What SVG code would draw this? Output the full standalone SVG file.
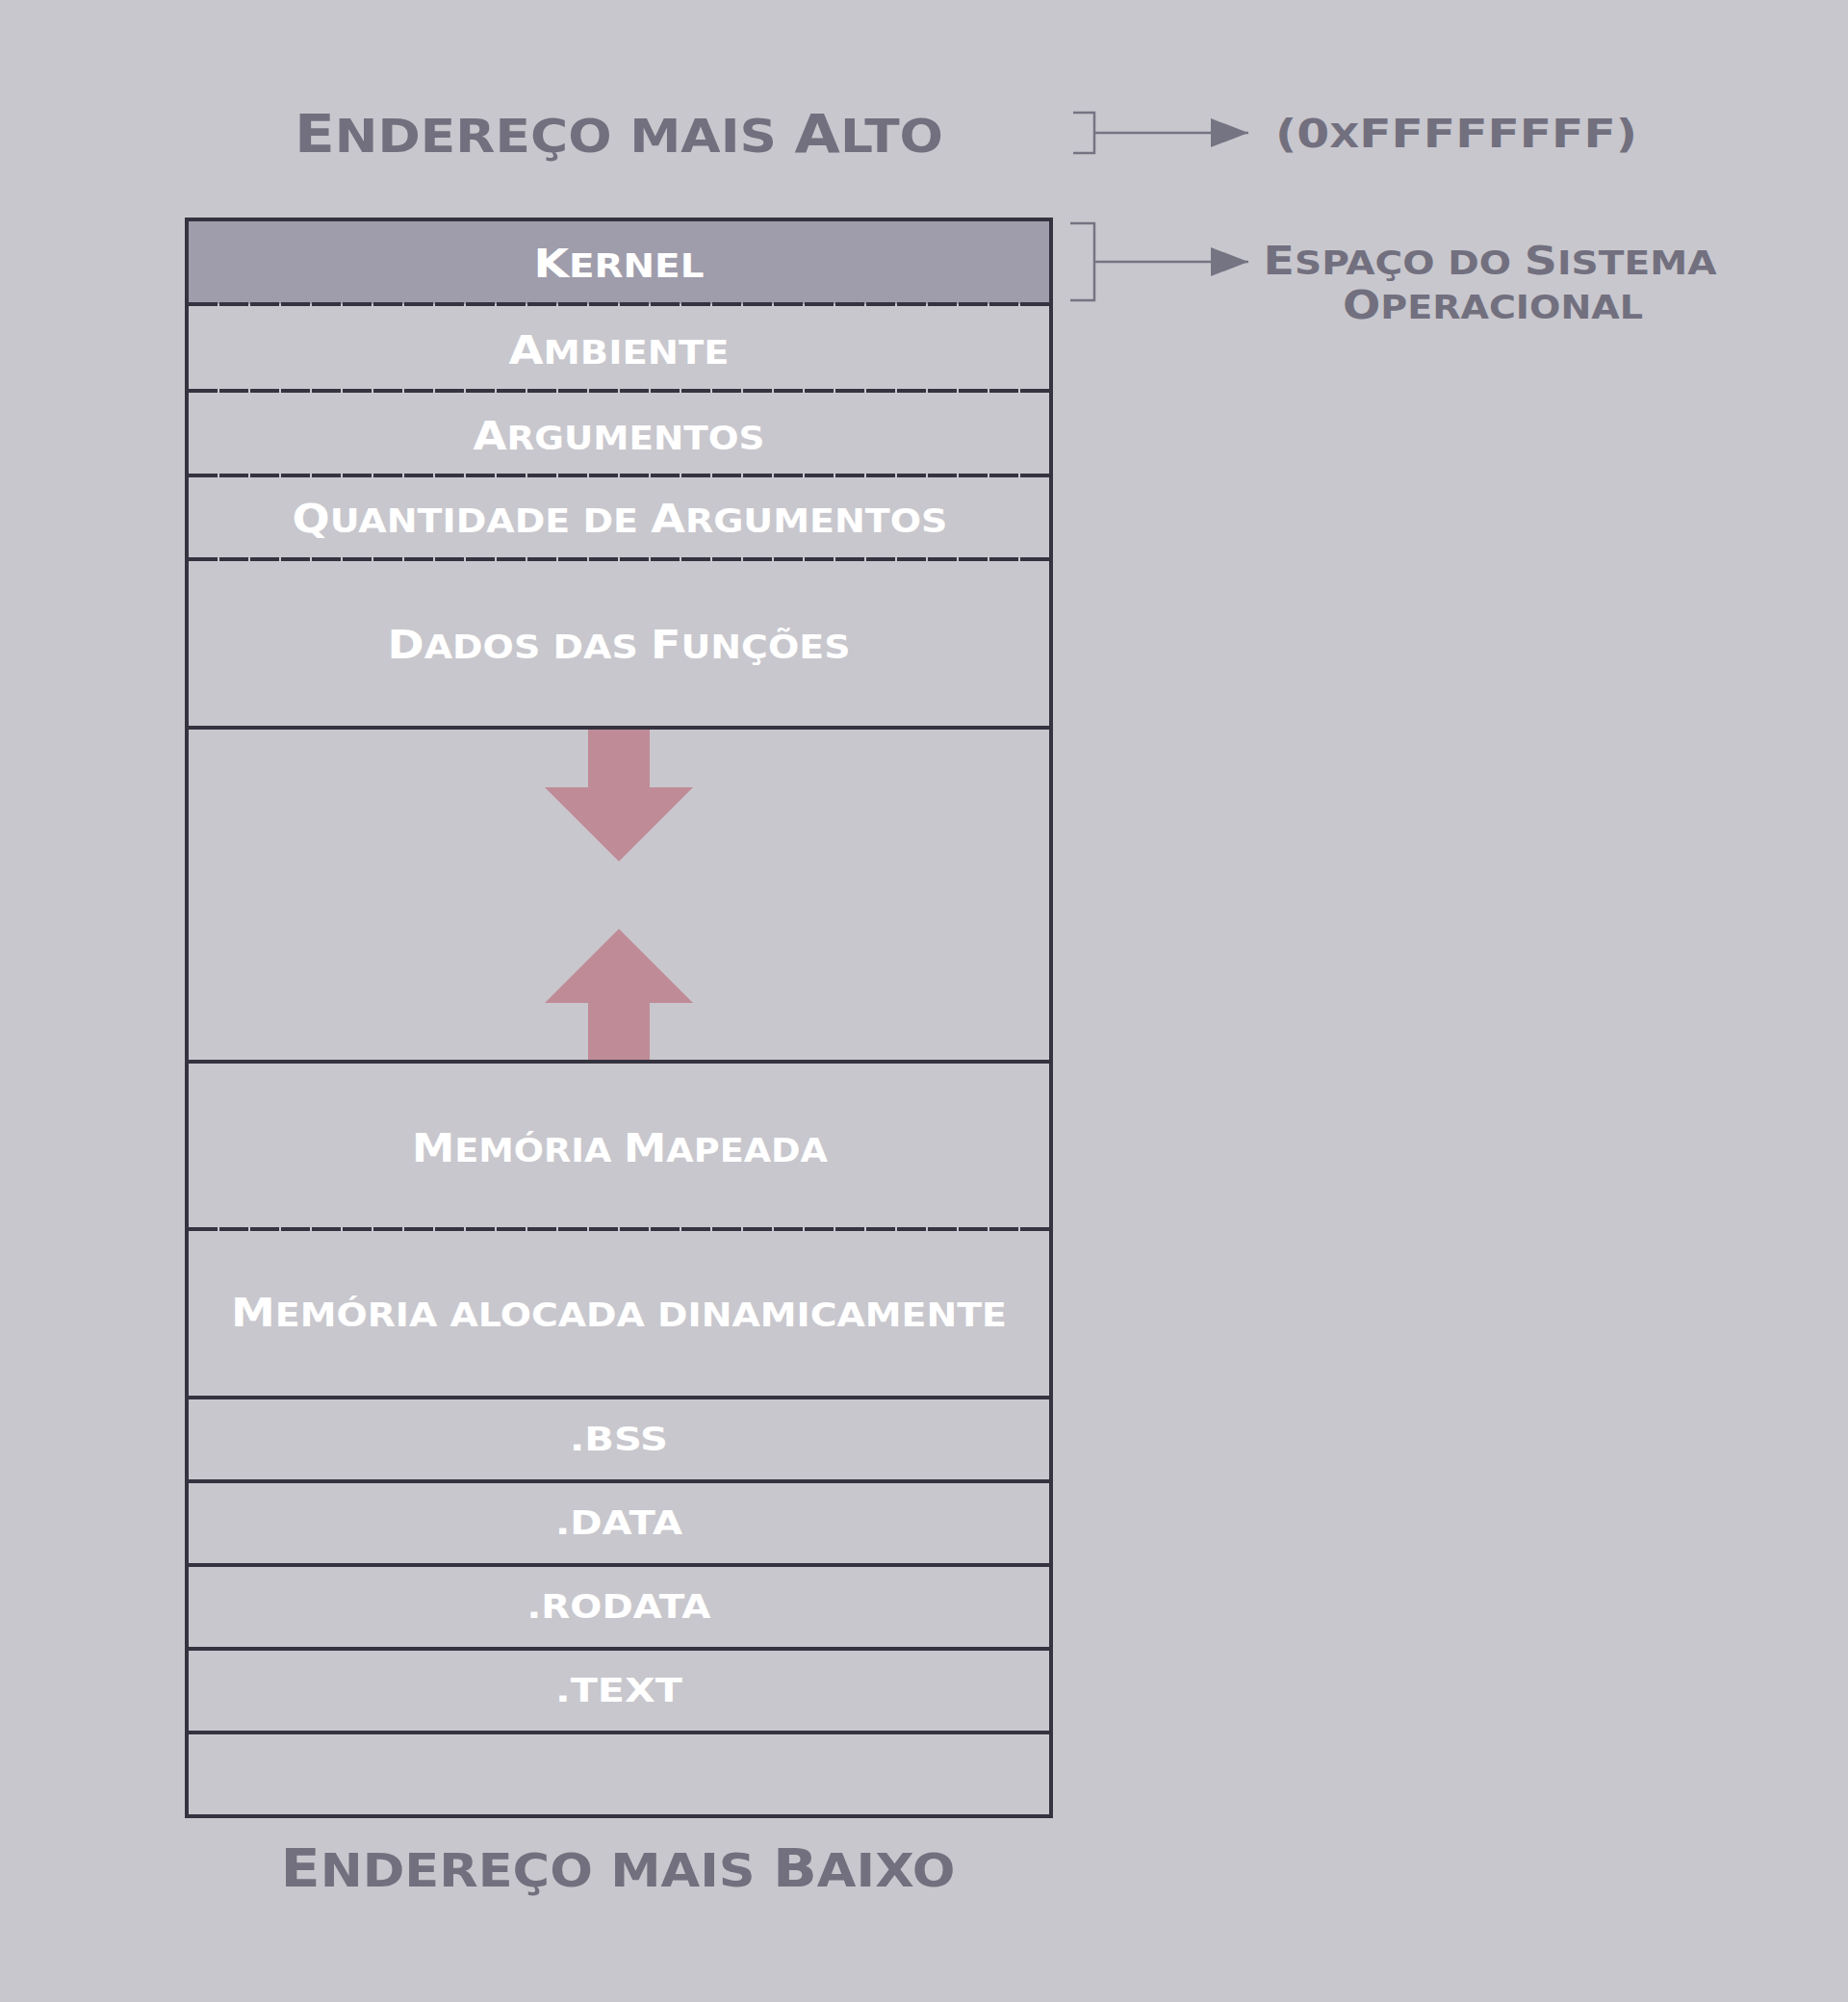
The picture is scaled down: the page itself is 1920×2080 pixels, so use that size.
<svg xmlns="http://www.w3.org/2000/svg" width="1920" height="2080" viewBox="0 0 1920 2080">
<defs>
<style>
.bg{fill:#c8c7cd}
.grid{stroke:#35333f;stroke-width:4;fill:none}
.dash{stroke:#35333f;stroke-width:4;stroke-dasharray:30 2;fill:none}
.lbl{font-family:"DejaVu Sans","Liberation Sans",sans-serif;font-weight:bold;fill:#ffffff;text-anchor:middle;text-transform:uppercase;font-size:33px}
.lbl .c{font-size:40px}
.ttl{font-family:"DejaVu Sans","Liberation Sans",sans-serif;font-weight:bold;fill:#72707f;text-anchor:middle;text-transform:uppercase;font-size:48px}
.ttl .c{font-size:55px}
.side{font-family:"DejaVu Sans","Liberation Sans",sans-serif;font-weight:bold;fill:#72707f;text-anchor:middle;text-transform:uppercase;font-size:33px}
.side .c{font-size:40px}
.conn{stroke:#757483;stroke-width:2.5;fill:none}
.pink{fill:#bf8b97}
</style>
<marker id="tri" markerUnits="userSpaceOnUse" markerWidth="39" markerHeight="30" refX="39" refY="15" orient="auto">
<path d="M0,0 L39,15 L0,30 Z" fill="#757483"/>
</marker>
</defs>
<rect class="bg" x="0" y="0" width="1920" height="2080"/>

<g id="title-top">
<text class="ttl" x="643" y="158" textLength="674" lengthAdjust="spacingAndGlyphs"><tspan class="c">E</tspan>ndereço mais <tspan class="c">A</tspan>lto</text>
</g>

<g id="kernel">
<rect x="193" y="228" width="900" height="88" fill="#9f9dac"/>
<text class="lbl" x="643" y="288" textLength="177" lengthAdjust="spacingAndGlyphs"><tspan class="c">K</tspan>ernel</text>
</g>
<g id="ambiente">
<text class="lbl" x="643" y="378" textLength="229" lengthAdjust="spacingAndGlyphs"><tspan class="c">A</tspan>mbiente</text>
</g>
<g id="argumentos">
<text class="lbl" x="643" y="467" textLength="303" lengthAdjust="spacingAndGlyphs"><tspan class="c">A</tspan>rgumentos</text>
</g>
<g id="quantidade">
<text class="lbl" x="644" y="553" textLength="681" lengthAdjust="spacingAndGlyphs"><tspan class="c">Q</tspan>uantidade de <tspan class="c">A</tspan>rgumentos</text>
</g>
<g id="dados">
<text class="lbl" x="643" y="684" textLength="481" lengthAdjust="spacingAndGlyphs"><tspan class="c">D</tspan>ados das <tspan class="c">F</tspan>unções</text>
</g>
<g id="crescimento">
<polygon class="pink" points="611,756 675,756 675,818 720,818 643,895 566,818 611,818"/>
<polygon class="pink" points="643,965 720,1042 675,1042 675,1103 611,1103 611,1042 566,1042"/>
</g>
<g id="memoria-mapeada">
<text class="lbl" x="644" y="1207" textLength="432" lengthAdjust="spacingAndGlyphs"><tspan class="c">M</tspan>emória <tspan class="c">M</tspan>apeada</text>
</g>
<g id="memoria-dinamica">
<text class="lbl" x="643" y="1378" textLength="806" lengthAdjust="spacingAndGlyphs"><tspan class="c">M</tspan>emória alocada dinamicamente</text>
</g>
<g id="bss">
<text class="lbl" x="643" y="1507" textLength="102" lengthAdjust="spacingAndGlyphs">.bss</text>
</g>
<g id="data">
<text class="lbl" x="643" y="1594" textLength="132" lengthAdjust="spacingAndGlyphs">.data</text>
</g>
<g id="rodata">
<text class="lbl" x="643" y="1681" textLength="191" lengthAdjust="spacingAndGlyphs">.rodata</text>
</g>
<g id="text">
<text class="lbl" x="643" y="1768" textLength="132" lengthAdjust="spacingAndGlyphs">.text</text>
</g>
<g id="vazio"></g>

<g id="grid">
<rect class="grid" x="194" y="228" width="898" height="1659"/>
<path class="dash" d="M196,316 H1090 M196,406 H1090 M196,494 H1090 M196,581 H1090 M196,1277 H1090"/>
<path class="grid" d="M194,756 H1092 M194,1103 H1092 M194,1452 H1092 M194,1539 H1092 M194,1626 H1092 M194,1713 H1092 M194,1800 H1092"/>
</g>

<g id="title-bottom">
<text class="ttl" x="642" y="1960" textLength="701" lengthAdjust="spacingAndGlyphs"><tspan class="c">E</tspan>ndereço mais <tspan class="c">B</tspan>aixo</text>
</g>

<g id="connectors">
<path class="conn" d="M1115,117 H1137 V159 H1115"/>
<path class="conn" d="M1137,138 H1297" marker-end="url(#tri)"/>
<path class="conn" d="M1112,232 H1137 V312 H1112"/>
<path class="conn" d="M1137,272 H1297" marker-end="url(#tri)"/>
</g>

<g id="endereco-alto">
<text class="side" x="1513" y="153" textLength="376" lengthAdjust="spacingAndGlyphs"><tspan class="c">(0</tspan>x<tspan class="c">FFFFFFFF)</tspan></text>
</g>
<g id="espaco-so">
<text class="side" x="1548" y="285" textLength="471" lengthAdjust="spacingAndGlyphs"><tspan class="c">E</tspan>spaço do <tspan class="c">S</tspan>istema</text>
<text class="side" x="1551" y="331" textLength="312" lengthAdjust="spacingAndGlyphs"><tspan class="c">O</tspan>peracional</text>
</g>
</svg>
